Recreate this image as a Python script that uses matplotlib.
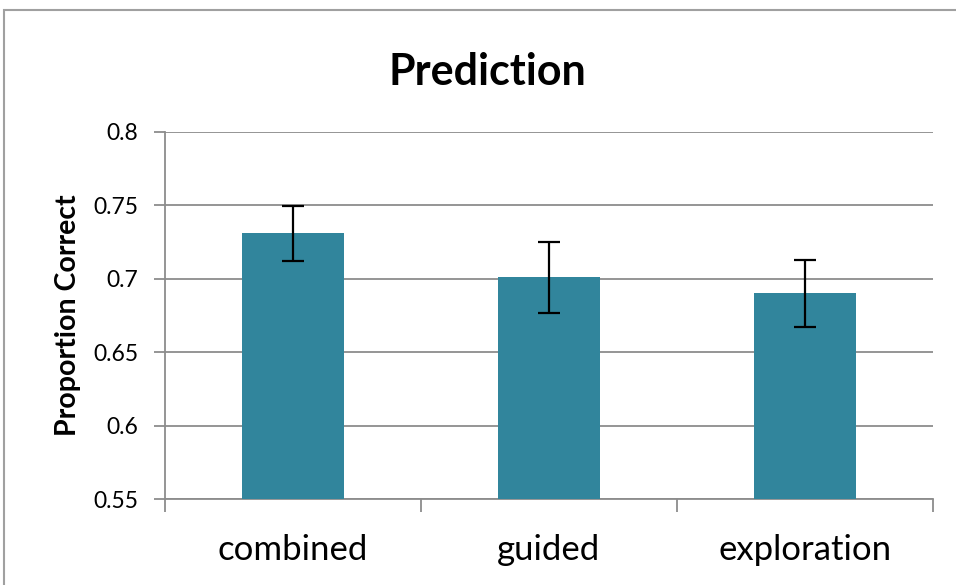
import matplotlib
matplotlib.use("Agg")
import matplotlib.pyplot as plt
from matplotlib.patches import Rectangle
import numpy as np

categories = ["combined", "guided", "exploration"]
means = [0.731, 0.701, 0.690]
errors = [0.0187, 0.024, 0.0227]
yticks = [0.55, 0.6, 0.65, 0.7, 0.75, 0.8]
ytick_labels = ["0.55", "0.6", "0.65", "0.7", "0.75", "0.8"]

plt.rcParams['font.family'] = ['Lato', 'DejaVu Sans']

fig = plt.figure(figsize=(9.56, 5.85), dpi=100)
ax = fig.add_axes([165/956, 1 - 499/585, (933-165)/956, (499-132)/585])

x = np.arange(len(categories))
ax.bar(x, [m - 0.55 for m in means], bottom=0.55, width=0.4, color="#31859C", zorder=3)
ax.errorbar(x, means, yerr=errors, fmt="none", ecolor="black", elinewidth=1.6,
            capsize=8, capthick=1.6, zorder=4)

ax.set_xlim(-0.5, 2.5)
ax.set_ylim(0.55, 0.8)
ax.set_yticks(yticks)
ax.set_yticklabels(ytick_labels, fontsize=16.5)
ax.yaxis.grid(True, color="#8c8c8c", linewidth=1.3, zorder=0)

ax.set_xticks([-0.5, 0.5, 1.5, 2.5])
ax.set_xticklabels([])
ax.set_xticks(x, minor=True)
ax.set_xticklabels(categories, minor=True, fontsize=25)
ax.tick_params(axis="x", which="minor", length=0, pad=25)
ax.tick_params(axis="x", which="major", length=9, width=1.3, color="#8c8c8c", direction="out")
ax.tick_params(axis="y", length=8, width=1.3, color="#8c8c8c", direction="out", pad=11)

for side in ["top", "right"]:
    ax.spines[side].set_visible(False)
for side in ["left", "bottom"]:
    ax.spines[side].set_color("#8c8c8c")
    ax.spines[side].set_linewidth(1.3)

ax.set_ylabel("Proportion Correct", fontsize=20.5, fontweight="bold", labelpad=9)

fig.text(487/956, 1 - 72/585, "Prediction", ha="center", va="center",
         fontsize=31, fontweight="bold")

fig.patches.append(Rectangle((4/956, -0.01), 1.0, 1 - 10/585 + 0.01, transform=fig.transFigure,
                             fill=False, edgecolor="#a0a0a0", linewidth=1.5))

fig.savefig("out.png", dpi=100)
